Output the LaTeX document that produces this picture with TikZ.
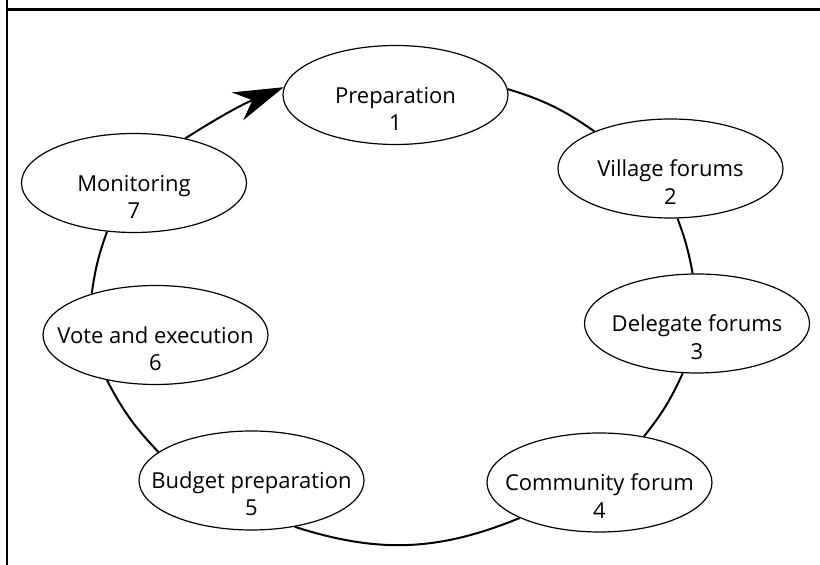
\documentclass[tikz,border=0pt]{standalone}
\usepackage{fontspec}
\setmainfont{Open Sans}
\usetikzlibrary{arrows.meta, shapes.geometric, positioning}

\begin{document}
\begin{tikzpicture}[
    x=0.5pt, y=-0.5pt,
    font=\fontsize{11}{13.6}\selectfont,
    every node/.style={align=center},
    stage/.style={
      ellipse, draw=black, line width=0.6pt,
      inner sep=0pt, minimum width=112.5pt, minimum height=49.5pt,
    },
    stagetext/.style={
      inner sep=0pt, yshift=-6.8pt,
    },
    ring/.style={
      draw=black, line width=1pt,
    },
    ringtip/.style={
      ring, -{Stealth[length=25pt, width=15pt, inset=8pt]}
    },
  ]
    \useasboundingbox (0,0) rectangle (820,565);

    % frame of the page
    \draw[line width=1.5pt] (7,10) -- (820,10);
    \draw[line width=1pt] (7,0) -- (7,565);

    \node[stage] (prep) at (395.5,95) {};
    \node[stagetext] (prep-t) at (prep) {Preparation\\1};

    \node[stage] (village) at (670.5,168.5) {};
    \node[stagetext] (village-t) at (village) {Village forums\\2};

    \node[stage] (delegate) at (697,323.5) {};
    \node[stagetext] (delegate-t) at (delegate) {Delegate forums\\3};

    \node[stage] (community) at (599.5,482.5) {};
    \node[stagetext] (community-t) at (community) {Community forum\\4};

    \node[stage] (budget) at (251.5,480.5) {};
    \node[stagetext] (budget-t) at (budget) {Budget preparation\\5};

    \node[stage] (vote) at (155.5,335) {};
    \node[stagetext] (vote-t) at (vote) {Vote and execution\\6};

    \node[stage] (monitor) at (134,183) {};
    \node[stagetext] (monitor-t) at (monitor) {Monitoring\\7};

    \draw[ring] (prep.3) to[bend left=9] (village.154);
    \draw[ring] (village.-82) to[bend left=5] (delegate.95);
    \draw[ring] (delegate.-106) to[bend left=7] (community.46);
    \draw[ring] (community.-156) to[bend left=20] (budget.-47);
    \draw[ring] (budget.163) to[bend left=8] (vote.-137);
    \draw[ring] (vote.147) to[bend left=6] (monitor.-119);
    \draw[ringtip] (monitor.41) to[bend left=5] (prep.176);
  \end{tikzpicture}
\end{document}
